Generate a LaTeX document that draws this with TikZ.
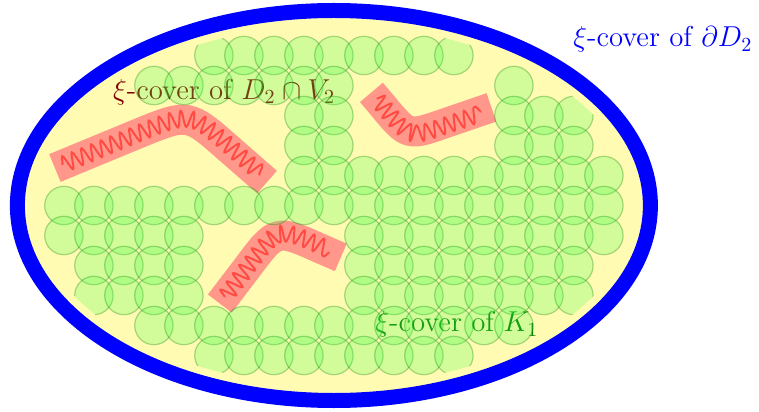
\documentclass[tikz,border=0pt]{standalone}
\usepackage{amsmath,amssymb}
\usepackage{xcolor}
\usepackage{tikz}
\usetikzlibrary{decorations.pathmorphing}

\begin{document}
\begin{tikzpicture}[x=15pt,y=15pt,
  cell/.style={fill=green!70,fill opacity=0.25,draw=green!50!black,draw opacity=0.3,line width=0.6pt},
  band/.style={draw=red!50,draw opacity=0.8,line width=15pt},
  wiggle/.style={draw=red,draw opacity=0.5,line width=1pt,decorate,
    decoration={snake,amplitude=4pt,segment length=5.2pt,pre=moveto,pre length=4pt,post=moveto,post length=4pt}},
  lbl/.style={anchor=base west,inner sep=0pt,font=\Large}]
  \useasboundingbox (-11.13,-6.88) rectangle (14.17,6.85);
  \draw[blue,line width=7.5pt,fill=yellow!30] (0,0) ellipse [x radius=10.55,y radius=6.5];
  % the three bands
  \draw[band] (-9.3,1.25) -- (-6.52,2.4) .. controls (-4.85,3.08) .. (-3.5,1.89) -- (-2.23,0.78);
  \draw[wiggle] (-9.3,1.25) -- (-6.52,2.4) .. controls (-4.85,3.08) .. (-3.5,1.89) -- (-2.23,0.78);
  \draw[band] (1.25,3.77) -- (1.64,3.31) .. controls (2.47,2.31) .. (3.7,2.74) -- (5.25,3.27);
  \draw[wiggle] (1.25,3.77) -- (1.64,3.31) .. controls (2.47,2.31) .. (3.7,2.74) -- (5.25,3.27);
  \draw[band] (-3.8,-3.27) -- (-2.88,-2.06) .. controls (-1.92,-0.78) .. (-0.46,-1.43) -- (0.23,-1.73);
  \draw[wiggle] (-3.8,-3.27) -- (-2.88,-2.06) .. controls (-1.92,-0.78) .. (-0.46,-1.43) -- (0.23,-1.73);
  % labels
  \node[lbl,blue] (lblbd) at (7.97,5.29) {$\xi$-cover of $\partial D_2$};
  \node[lbl,red!50!black] (lblv) at (-7.37,3.54) {$\xi$-cover of $D_2\cap V_2$};
  \node[lbl,green!50!black] (lblk) at (1.37,-4.21) {$\xi$-cover of $K_1$};
  % the cover
  \begin{scope}
    \clip (0,0) ellipse [x radius=10,y radius=6];
    \foreach \y/\xa/\xb in {5/-4/4, 4/-6/0, 4/6/6, 3/-1/0, 3/6/8, 2/-1/0, 2/6/8,
        1/-1/9, 0/-9/9, -1/-9/-5, -1/1/9, -2/-8/-5, -2/1/8, -3/-8/-5, -3/1/8,
        -4/-6/6, -5/-4/4}
      \foreach \x in {\xa,...,\xb}
        \draw[cell] (\x,\y) circle (0.64);
  \end{scope}
\end{tikzpicture}
\end{document}
